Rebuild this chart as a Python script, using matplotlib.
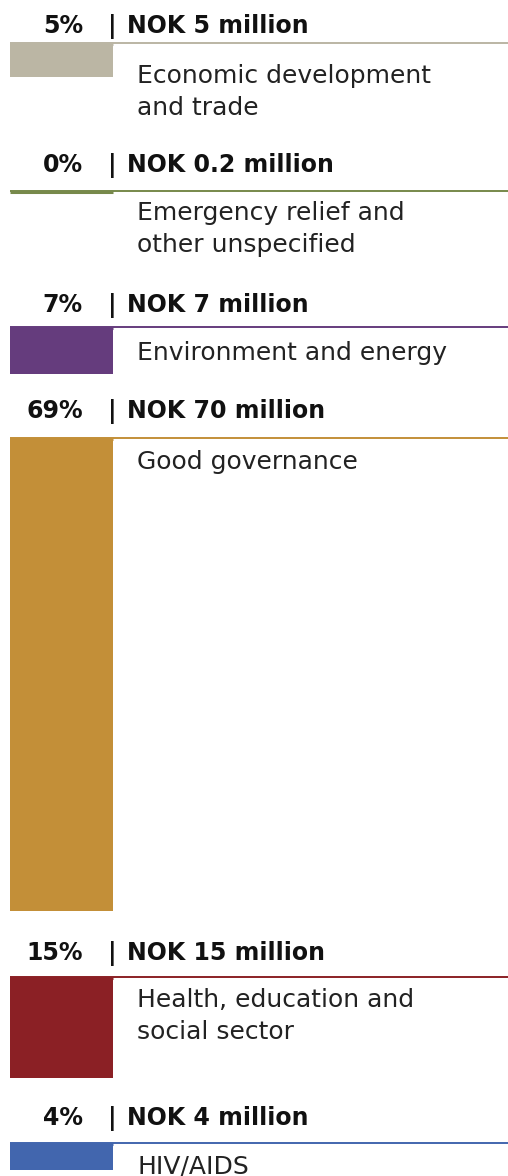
import matplotlib.pyplot as plt

# sector shares of the total allocation
sectors = ['Economic development\nand trade',
           'Emergency relief and\nother unspecified',
           'Environment and energy',
           'Good governance',
           'Health, education and\nsocial sector',
           'HIV/AIDS']
shares = ['5%', '0%', '7%', '69%', '15%', '4%']
nok_million = [5, 0.2, 7, 70, 15, 4]
nok_labels = ['5', '0.2', '7', '70', '15', '4']
colors = ['#bbb6a4', '#77894b', '#653c7d', '#c38f38', '#8b2025', '#4266ae']

# layout (pixel units, y grows downward)
W, H = 508, 1176
px_per_million = 6.75
rule_y = [43, 191, 327, 438, 977, 1143]
head_base = [33, 172, 312, 418, 960, 1125]
label_base = [83, 220, 360, 469, 1007, 1173]
line_pitch = 32
bar_x0, bar_x1 = 10, 113

fig = plt.figure(figsize=(W / 100, H / 100), dpi=100)
ax = fig.add_axes([0, 0, 1, 1])
ax.set_xlim(0, W)
ax.set_ylim(H, 0)
ax.axis('off')

head_kw = dict(fontsize=17, fontweight='bold', color='#111111', va='baseline')

for i, name in enumerate(sectors):
    y = rule_y[i]
    c = colors[i]
    # block for the amount, hanging below the rule
    ax.bar(bar_x0, nok_million[i] * px_per_million, width=bar_x1 - bar_x0,
           bottom=y, align='edge', color=c, linewidth=0)
    ax.plot([bar_x0, W], [y, y], color=c, lw=1.4, solid_capstyle='butt')
    ax.plot([bar_x0, bar_x1], [y + 0.5, y + 0.5], color=c, lw=2.2, solid_capstyle='butt')

    hb = head_base[i]
    ax.text(83, hb, shares[i], ha='right', **head_kw)
    ax.text(112, hb, '|', ha='center', **head_kw)
    ax.text(127, hb, f'NOK {nok_labels[i]} million', ha='left', **head_kw)
    for k, line in enumerate(name.split('\n')):
        ax.text(137, label_base[i] + k * line_pitch, line, ha='left', va='baseline',
                fontsize=18, color='#222222')

fig.savefig('out.png', dpi=100, facecolor='white')
